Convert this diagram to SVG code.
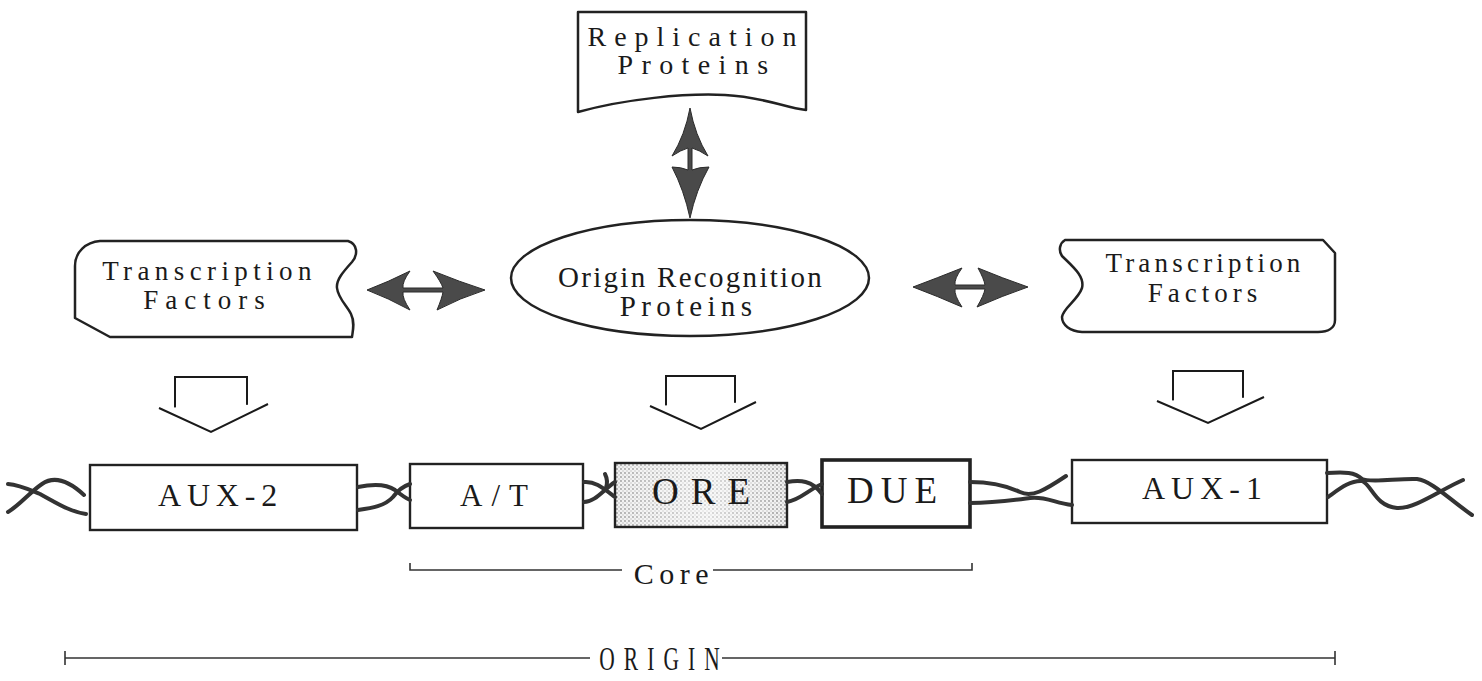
<svg xmlns="http://www.w3.org/2000/svg" width="1482" height="681" viewBox="0 0 1482 681">
  <style>
    .outline { fill: #ffffff; stroke: #222222; stroke-width: 2.5; stroke-linejoin: round; }
    .box { fill: #ffffff; stroke: #222222; stroke-width: 2.4; }
    .heavy { stroke-width: 3.6; }
    .dbl { fill: #4a4a4a; stroke: #2a2a2a; stroke-width: 1; stroke-linejoin: round; }
    .hollow { fill: #ffffff; stroke: #1a1a1a; stroke-width: 2; stroke-linejoin: miter; stroke-linecap: butt; }
    .strand { fill: none; stroke: #333333; stroke-width: 4; stroke-linecap: round; }
    .rule { fill: none; stroke: #333333; stroke-width: 1.6; }
    .lbl { font-family: "Liberation Serif", "Times New Roman", serif; fill: #1a1a1a; text-anchor: middle; }
  </style>
  <defs>
    <pattern id="stipple" width="4" height="4" patternUnits="userSpaceOnUse">
      <rect width="4" height="4" fill="#f0f0f0"/>
      <circle cx="1" cy="1" r="0.9" fill="#8c8c8c"/>
      <circle cx="3" cy="3" r="0.7" fill="#a8a8a8"/>
    </pattern>
    <linearGradient id="fade" x1="0" y1="0" x2="1" y2="0">
      <stop offset="0" stop-color="#ffffff" stop-opacity="0.1"/>
      <stop offset="0.55" stop-color="#ffffff" stop-opacity="0.55"/>
      <stop offset="1" stop-color="#ffffff" stop-opacity="0"/>
    </linearGradient>
  </defs>

  <!-- protein nodes -->
  <g id="replication-proteins">
    <path class="outline" d="M578,12 H806 V110 C785,108 765,97 725,95 C685,93 625,99 578,112 Z"/>
    <text class="lbl" x="696" y="46" font-size="28" letter-spacing="8">Replication</text>
    <text class="lbl" x="697" y="74" font-size="28" letter-spacing="8.4">Proteins</text>
  </g>

  <g id="origin-recognition-proteins">
    <ellipse class="outline" cx="690" cy="278" rx="179" ry="58"/>
    <text class="lbl" x="691" y="287" font-size="29" letter-spacing="2.3">Origin Recognition</text>
    <text class="lbl" x="688.5" y="316" font-size="29" letter-spacing="5.3">Proteins</text>
  </g>

  <g id="transcription-factors-left">
    <path class="outline" d="M100,241 H348 C358,244 358,255 352,262 C343,272 336,280 337,288 C338,298 347,306 351,314 C355,322 353,330 352,337 H110 L75,318 V266 C75,252 86,242 100,241 Z"/>
    <text class="lbl" x="209.5" y="280" font-size="27" letter-spacing="5.4">Transcription</text>
    <text class="lbl" x="207.5" y="309" font-size="27" letter-spacing="7">Factors</text>
  </g>

  <g id="transcription-factors-right">
    <path class="outline" d="M1065,240 H1323 L1335,253 V320 C1335,328 1328,332 1318,332 H1082 C1070,331 1062,325 1062,317 C1063,308 1078,300 1082,288 C1085,276 1072,266 1062,256 C1058,250 1060,243 1065,240 Z"/>
    <text class="lbl" x="1205" y="272" font-size="27" letter-spacing="4.2">Transcription</text>
    <text class="lbl" x="1205" y="302" font-size="27" letter-spacing="5">Factors</text>
  </g>

  <!-- DNA elements -->
  <g id="aux-2">
    <rect class="box" x="90" y="465" width="267" height="65"/>
    <text class="lbl" x="220.5" y="506" font-size="32" letter-spacing="5.8">AUX-2</text>
  </g>
  <g id="a-t">
    <rect class="box" x="410" y="464" width="173" height="64"/>
    <text class="lbl" x="498.5" y="506" font-size="31" letter-spacing="9">A/T</text>
  </g>
  <g id="ore">
    <rect x="615" y="463" width="172" height="64" fill="url(#stipple)"/>
    <rect x="615" y="463" width="172" height="64" fill="url(#fade)"/>
    <rect x="615" y="463" width="172" height="64" fill="none" stroke="#222222" stroke-width="2.4"/>
    <text class="lbl" x="707" y="504" font-size="37" letter-spacing="12">ORE</text>
  </g>
  <g id="due">
    <rect class="box heavy" x="822" y="460" width="148" height="67"/>
    <text class="lbl" x="895.5" y="503" font-size="37" letter-spacing="7">DUE</text>
  </g>
  <g id="aux-1">
    <rect class="box" x="1072" y="460" width="255" height="63"/>
    <text class="lbl" x="1205" y="499" font-size="32" letter-spacing="6">AUX-1</text>
  </g>

  <!-- connectors: interaction arrows, binding arrows, DNA strands -->
  <g id="connectors">
    <path class="dbl" d="M690,108 Q685,135 672,156 Q681,150 688,148 L688,170 Q681,167 672,167 Q684,190 690,218 Q696,190 709,167 Q699,167 692,170 L692,148 Q699,150 708,156 Q695,135 690,108 Z"/>
    <path class="dbl" d="M367,290 Q388,282 410,271 Q402,282 403,288 L443,288 Q441,282 433,271 Q460,282 485,290 Q460,298 437,310 Q442,298 443,292 L403,292 Q402,298 410,310 Q388,298 367,290 Z"/>
    <path class="dbl" d="M913,287 Q937,278 962,268 Q954,279 955,285 L985,285 Q984,279 978,268 Q1002,278 1028,287 Q1002,296 977,307 Q984,295 985,289 L955,289 Q954,295 962,307 Q937,296 913,287 Z"/>

    <path class="hollow" d="M175,415 V377 H247 V414"/>
    <path class="hollow" fill="none" d="M159,408 L211,432 L268,404"/>
    <path class="hollow" d="M666,413 V376 H735 V412"/>
    <path class="hollow" fill="none" d="M650,406 L701,429 L756,402"/>
    <path class="hollow" d="M1173,408 V371 H1243 V406"/>
    <path class="hollow" fill="none" d="M1157,401 L1208,423 L1264,397"/>

    <path class="strand" d="M8,512 C20,505 30,492 42,484 C55,475 70,482 84,495"/>
    <path class="strand" d="M8,484 C20,485 30,490 40,494 C55,502 70,512 86,514"/>
    <path class="strand" d="M358,487 C372,484 385,483 395,490 C400,494 405,498 410,500"/>
    <path class="strand" d="M358,510 C372,508 385,506 393,497 C398,490 404,486 410,484"/>
    <path class="strand" d="M584,482 C595,481 603,488 615,497"/>
    <path class="strand" d="M584,502 C595,502 603,490 615,482"/>
    <path class="strand" d="M605,474 C607,478 608,482 606,488"/>
    <path class="strand" d="M787,482 C800,480 812,480 822,494"/>
    <path class="strand" d="M787,502 C800,500 808,490 822,484"/>
    <path class="strand" d="M970,482 C990,482 1005,485 1020,492 C1032,498 1045,490 1066,476"/>
    <path class="strand" d="M970,503 C995,503 1015,500 1030,498 C1045,496 1055,503 1072,505"/>
    <path class="strand" d="M1327,473 C1345,472 1355,472 1362,479 C1370,483 1400,478 1417,479 C1432,481 1450,500 1472,515"/>
    <path class="strand" d="M1328,497 C1338,490 1350,480 1362,481 C1372,485 1375,506 1397,508 C1415,509 1440,490 1463,480"/>
  </g>

  <!-- extent brackets -->
  <g id="core">
    <path class="rule" d="M410,563 V570 H622 M713,570 H972 V563"/>
    <text class="lbl" x="674" y="584" font-size="30" letter-spacing="5.5">Core</text>
  </g>
  <g id="origin">
    <path class="rule" d="M65,651 V665 M65,658 H590 M722,658 H1335 M1335,651 V665"/>
    <text class="lbl" transform="translate(664,670) scale(0.65,1)" x="0" y="0" font-size="33" letter-spacing="14">ORIGIN</text>
  </g>
</svg>
